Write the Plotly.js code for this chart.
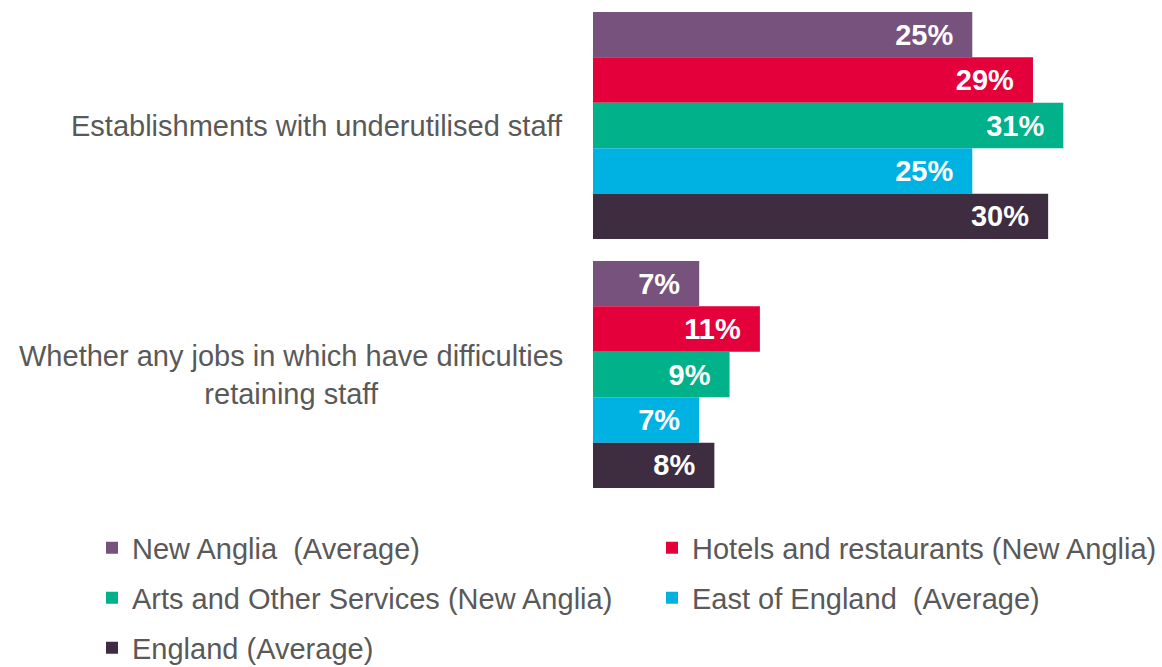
<!DOCTYPE html>
<html>
<head>
<meta charset="utf-8">
<script src="https://cdn.plot.ly/plotly-3.0.1.min.js"></script>
<style>html,body{margin:0;padding:0;background:#fff;}#chart{width:1162px;height:667px;}</style>
</head>
<body>
<div id="chart"></div>
<script>
const categories = ["Establishments with underutilised staff", "Whether any jobs in which have difficulties<br>retaining staff"];
const seriesNames = ["New Anglia  (Average)", "Hotels and restaurants (New Anglia)", "Arts and Other Services (New Anglia)", "East of England  (Average)", "England (Average)"];
const newAnglia = [25, 7];
const hotels = [29, 11];
const arts = [31, 9];
const eastEngland = [25, 7];
const england = [30, 8];
const colors = ["#76527C", "#E4003B", "#00B189", "#00B2E2", "#3E2C41"];

const allValues = [newAnglia, hotels, arts, eastEngland, england];
const legendIds = ["legend", "legend2", "legend3", "legend4", "legend5"];
const FONT = "Liberation Sans, Arial, sans-serif";
const GREY = "#595959";

const traces = allValues.map((vals, i) => ({
  type: "bar",
  orientation: "h",
  name: seriesNames[i],
  y: categories,
  x: vals,
  marker: {color: colors[i], line: {width: 0}},
  text: vals.map(v => v + "%\u00A0\u00A0"),
  textposition: "inside",
  insidetextanchor: "end",
  constraintext: "none",
  textangle: 0,
  insidetextfont: {family: FONT, size: 29, color: "#ffffff", weight: "bold"},
  hoverinfo: "skip",
  legend: legendIds[i]
}));

// legend slots: [left px of entry, row centre px]
const legendSlots = [[92, 548], [652, 548], [92, 598], [652, 598], [92, 648]];

function legendAt(slot) {
  return {
    orientation: "h",
    xref: "container", yref: "container",
    x: slot[0] / 1162, xanchor: "left",
    y: 1 - slot[1] / 667, yanchor: "middle",
    font: {family: FONT, size: 29, color: GREY},
    bgcolor: "rgba(0,0,0,0)",
    itemwidth: 30
  };
}

const annotations = categories.map(c => ({
  text: c,
  xref: "paper", x: 0, xanchor: "right", xshift: -28,
  yref: "y", y: c, yanchor: "middle",
  showarrow: false, align: "center",
  font: {family: FONT, size: 29, color: GREY}
}));

const layout = {
  width: 1162, height: 667,
  margin: {l: 593, r: 38, t: 1, b: 168},
  paper_bgcolor: "#ffffff", plot_bgcolor: "#ffffff",
  barmode: "group", bargap: 0.088, bargroupgap: 0,
  xaxis: {range: [0, 35], visible: false, showgrid: false, zeroline: false, fixedrange: true},
  yaxis: {type: "category", autorange: "reversed", showticklabels: false, showgrid: false, zeroline: false, showline: false, ticks: "", fixedrange: true},
  showlegend: true,
  annotations: annotations,
  font: {family: FONT, color: GREY}
};
legendIds.forEach((id, i) => { layout[id] = legendAt(legendSlots[i]); });

Plotly.newPlot("chart", traces, layout, {displayModeBar: false, staticPlot: true});
</script>
</body>
</html>
